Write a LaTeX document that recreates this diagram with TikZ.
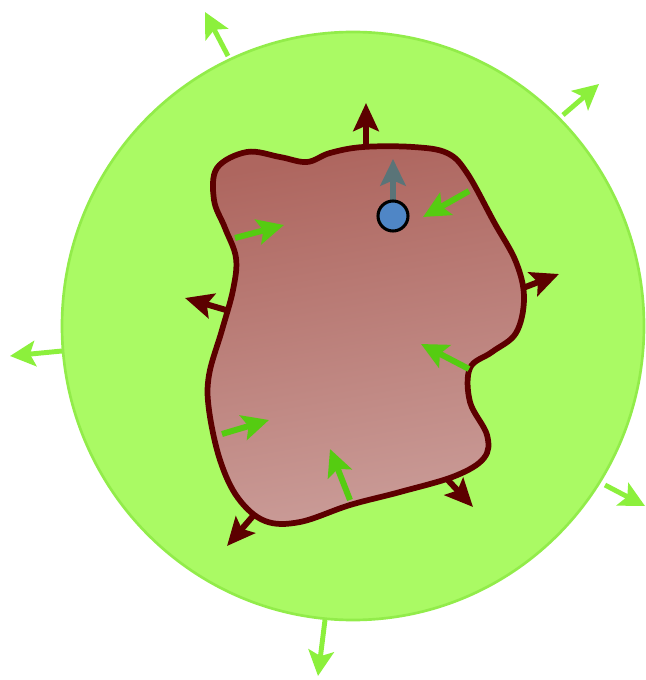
\documentclass[tikz,border=0pt]{standalone}
\usetikzlibrary{arrows.meta}
\definecolor{cellfill}{HTML}{AAFA64}
\definecolor{cellrim}{HTML}{92EC4A}
\definecolor{outgreen}{HTML}{8CF03C}
\definecolor{ingreen}{HTML}{55CC11}
\definecolor{blobrim}{HTML}{5C0000}
\definecolor{blobtop}{HTML}{AE665F}
\definecolor{blobbot}{HTML}{CA9C98}
\definecolor{dotblue}{HTML}{4F86C6}
\definecolor{dotarrow}{HTML}{5A7478}

\begin{document}
\begin{tikzpicture}[x=0.75pt,y=-0.75pt,
    outarrow/.style={draw=outgreen, line width=3.7pt, -{Stealth[length=19pt,width=19pt,inset=4pt]}},
    inarrow/.style={draw=ingreen, line width=4.5pt, -{Stealth[length=20pt,width=19pt,inset=4pt]}},
    rimarrow/.style={draw=blobrim, line width=4.5pt, -{Stealth[length=21pt,width=19pt,inset=4pt]}}]
            \useasboundingbox (0,0) rectangle (645,680);

            % outer cell
            \draw[cellrim, line width=2pt, fill=cellfill] (353,326) circle [x radius=291, y radius=294];

            \draw[outarrow] (228,56) -- (205,12);
            \draw[outarrow] (563,115) -- (599,84);
            \draw[outarrow] (62,351) -- (10,356);
            \draw[outarrow] (605,485) -- (645,506);
            \draw[outarrow] (325,620) -- (318,676);

            % inner blob
            \draw[blobrim, line width=4.3pt, top color=blobtop, bottom color=blobbot, shading angle=10]
              plot[smooth cycle, tension=0.6] coordinates {
                (217,168) (247,152) (280,157) (307,162) (330,153) (363,147) (413,147)
                (447,153) (467,173) (494,222) (516,262) (524,298) (516,333) (492,352)
                (470,368) (470,402) (487,435) (484,458) (455,476) (400,492) (350,505)
                (300,522) (265,521) (238,498) (220,460) (209,410) (209,375) (222,330)
                (233,290) (236,258) (225,228) (214,200)};

            \draw[rimarrow] (366,147) -- (366,103);
            \draw[rimarrow] (523,288) -- (559,274);
            \draw[rimarrow] (226,310) -- (185,298);
            \draw[rimarrow] (446,478) -- (473,507);
            \draw[rimarrow] (253,516) -- (227,546);

            \draw[inarrow] (235,238) -- (284,225);
            \draw[inarrow] (469,191) -- (423,217);
            \draw[inarrow] (469,369) -- (421,344);
            \draw[inarrow] (222,434) -- (269,420);
            \draw[inarrow] (350,500) -- (330,449);

            % particle
            \draw[dotarrow, line width=4.5pt, -{Stealth[length=20pt,width=19pt,inset=4pt]}] (393,205) -- (393,159);
            \draw[black, line width=2.3pt, fill=dotblue] (393,216) circle [radius=15];
         \end{tikzpicture}
\end{document}
